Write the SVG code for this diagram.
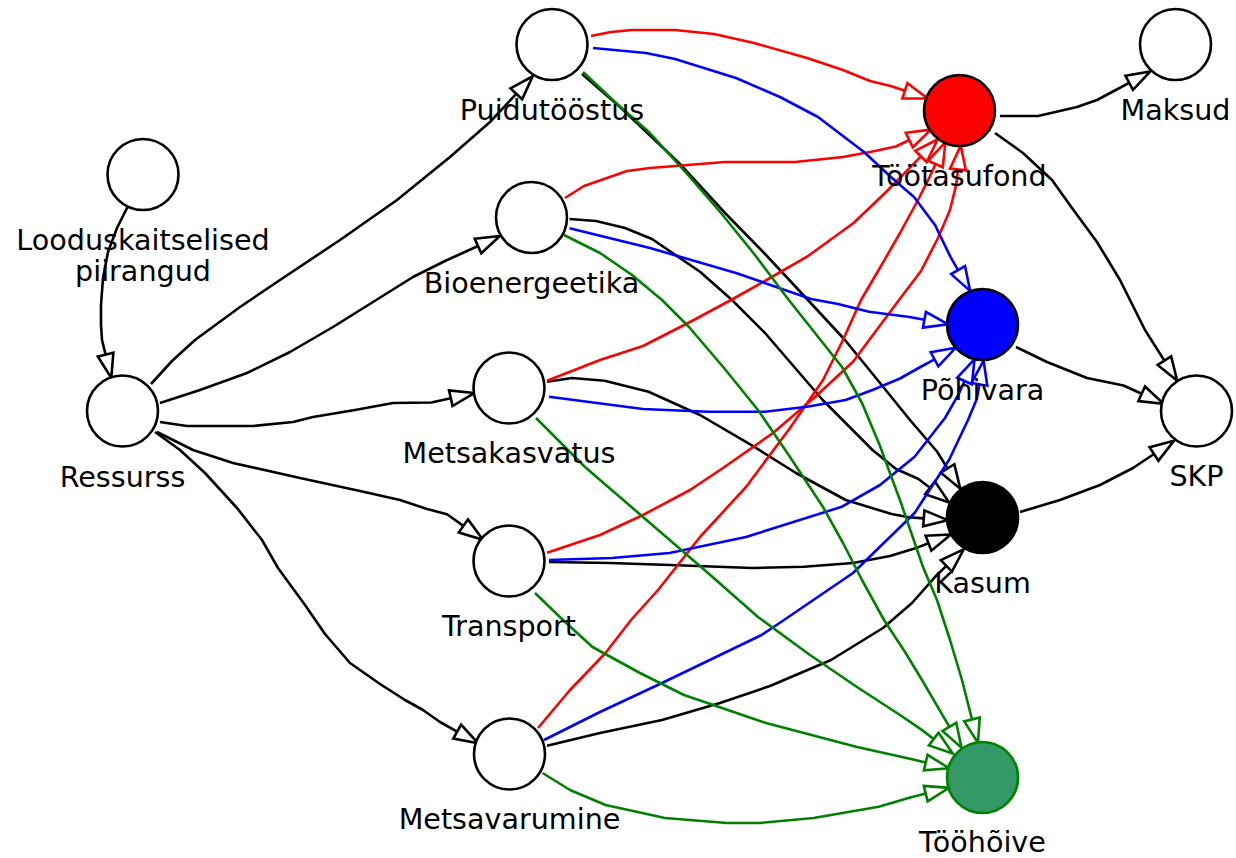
<svg xmlns="http://www.w3.org/2000/svg" width="1236" height="858" viewBox="0 0 1236 858">
<style>
.e{fill:none;stroke-width:2.6;stroke-linejoin:round}
.k{stroke:#000;marker-end:url(#mk)}
.r{stroke:#ff0000;marker-end:url(#mr)}
.b{stroke:#0000ff;marker-end:url(#mb)}
.g{stroke:#008000;marker-end:url(#mg)}
.n{fill:#fff;stroke:#000;stroke-width:2.6}
.t{font-family:"DejaVu Sans","Noto Sans",sans-serif;font-size:28.6px;fill:#000;text-anchor:middle}
marker{overflow:visible}
</style>
<defs>
<marker id="mk" viewBox="-3 -11 30 22" refX="0" refY="0" markerWidth="30" markerHeight="22" markerUnits="userSpaceOnUse" orient="auto"><path d="M0,-8L24,0L0,8Z" fill="none" stroke="#000" stroke-width="2.6"/></marker>
<marker id="mr" viewBox="-3 -11 30 22" refX="0" refY="0" markerWidth="30" markerHeight="22" markerUnits="userSpaceOnUse" orient="auto"><path d="M0,-8L24,0L0,8Z" fill="none" stroke="#ff0000" stroke-width="2.6"/></marker>
<marker id="mb" viewBox="-3 -11 30 22" refX="0" refY="0" markerWidth="30" markerHeight="22" markerUnits="userSpaceOnUse" orient="auto"><path d="M0,-8L24,0L0,8Z" fill="none" stroke="#0000ff" stroke-width="2.6"/></marker>
<marker id="mg" viewBox="-3 -11 30 22" refX="0" refY="0" markerWidth="30" markerHeight="22" markerUnits="userSpaceOnUse" orient="auto"><path d="M0,-8L24,0L0,8Z" fill="none" stroke="#008000" stroke-width="2.6"/></marker>
</defs>
<rect width="1236" height="858" fill="#fff"/>
<g id="connectors">
<path class="e k" d="M128,206 L117,228 L108,252 L103,278 L101,305 L101,325 L102,340 L105.6,354.6"/>
<path class="e k" d="M151,384 L172,361 L195,340 L240,307 L280,280 L340,240 L397,200 L450,157 L490,122 L516.3,93.8"/>
<path class="e k" d="M160,403 L200,390 L247,373 L290,352 L333,327 L373,302 L413,277 L445,261 L478,246"/>
<path class="e k" d="M160,422 L187,426 L253,426 L293,422 L313,417 L355,410 L393,403 L431.3,402.5 L450.8,398.2"/>
<path class="e k" d="M157,432 L193,450 L233,463 L300,478 L360,491 L400,500 L427,509 L447,514.3 L463.4,525.9"/>
<path class="e k" d="M155,432 L180,450 L205,473 L237,508 L262,540 L278,568 L305,605 L325,634 L350,663 L380,684 L405,700 L423,710 L440,722 L457.2,731.6"/>
<path class="e k" d="M1000,116 L1038,116 L1077,107 L1097,100 L1112,92 L1129.2,82.8"/>
<path class="e k" d="M995,133 L1023,153 L1052,180 L1072,208 L1097,242 L1120,280 L1145,330 L1164.4,360.6"/>
<path class="e k" d="M1016,347 L1047,362 L1087,378 L1123.5,385.5 L1141.7,393.8"/>
<path class="e k" d="M1020,512 L1060,500 L1100,485 L1133,468 L1154,454"/>
<path class="e k" d="M582,74 L620,107 L679,163 L725,213 L766,255 L807,299 L845,340 L880,383 L910,420 L937,451.5 L947.6,468.5"/>
<path class="e k" d="M569.6,219 L596,221 L625,228 L652,239 L700,271.7 L732,300 L765,333 L822.7,400 L872.5,450 L896,469 L918.1,478.7 L930,487.8"/>
<path class="e k" d="M547,381.7 L572,378 L604.6,380.7 L648.6,391.7 L700,415 L754,446.7 L796,473 L845.7,500 L891.6,514 L908.9,517.3 L923.8,518.4"/>
<path class="e k" d="M549,562 L610,563 L670,565 L752,568 L804,566.7 L853,563 L890,556 L914.5,548.6 L928.5,543.2"/>
<path class="e k" d="M547,745.7 L600,733 L662,720 L720,703 L770,686 L831,660 L883,628 L912,603 L935.6,576.3 L946.4,565.9"/>
<path class="e r" d="M591,36 L611,32 L632,30 L675,30 L714,34 L754,43 L807,58 L843,70 L870,81 L890.7,86 L904.9,90.8"/>
<path class="e r" d="M565,198 L584,186 L627,171 L650,168 L725,162 L795,162 L843,157 L875,151 L895.8,146.5 L909.3,140"/>
<path class="e r" d="M547,380.7 L600,360 L643,346 L690,322 L731,300 L770,278 L807,256.7 L853.6,223 L885,193 L910.4,167.1 L920.9,156.4"/>
<path class="e r" d="M547,552.7 L600,535 L643,515 L690,490 L723,468 L773,433 L815,397 L853,361.7 L899,300 L921,271 L938,238 L950,210 L956.3,184.4 L958,169.5"/>
<path class="e r" d="M538,728 L570,690 L605.5,653 L631,620 L658,590 L700,537 L746,487 L790,428 L823,380 L842,342 L861,300 L881,266 L900,233 L918,200 L929.3,177.7 L935.5,164"/>
<path class="e b" d="M593,48 L646,53 L675,59 L736,78 L780,97 L818,117 L864,152 L892,178 L914,197 L935,225 L950.6,257.1 L958.1,270.1"/>
<path class="e b" d="M569.6,228.3 L650,248 L736,273 L811,299 L838,304 L869,311.7 L909.6,317 L924.4,319.8"/>
<path class="e b" d="M549,396.7 L643,409 L708,411.7 L765,411.7 L807,406.7 L845.7,400 L872.5,390 L900,378.5 L921.3,366.5 L934.5,359.3"/>
<path class="e b" d="M549,560 L612,558 L669.6,553 L746,537 L842,506.7 L880,485 L914.6,456.7 L945,418 L958.4,394.7 L964.6,381"/>
<path class="e b" d="M544,740 L600,712 L662,683 L761.6,635 L784,620 L853,573 L914.6,513 L949,460 L968,420 L976.8,399 L979.4,384.3"/>
<path class="e g" d="M583,72 L615,102 L650,133 L688,175 L721,213 L755,255 L788,299 L815,333 L842,367 L862,403 L880,446 L901,503 L923,567 L937,600 L950,640 L962,680 L968.3,704.9 L972,719.4"/>
<path class="e g" d="M564,235 L600,253 L632,275 L662,300 L689,327 L724,368 L758,410 L790,457 L823,507 L843,543 L862,580 L884,620 L905,652 L922,680 L941.8,713.9 L949.4,726.9"/>
<path class="e g" d="M536,418 L585,467 L643,517 L708,573 L758,617 L810,655 L857,687 L900,715 L921.8,729.9 L933.7,739"/>
<path class="e g" d="M535,593 L563,620 L592.5,647 L640,673 L684,695 L766,723 L857,747 L911.1,759.1 L925.7,762.6"/>
<path class="e g" d="M542.6,773 L570,790 L605.5,805 L665,818 L727,823 L760,823 L813.6,818 L878.7,806.7 L911.1,797.2 L925.7,793.6"/>
</g>
<g id="n-loodus"><circle class="n" cx="143" cy="174.5" r="35.5"/><text class="t" x="143" y="250">Looduskaitselised</text><text class="t" x="143" y="281">piirangud</text></g>
<g id="n-ressurss"><circle class="n" cx="122.5" cy="411" r="35.5"/><text class="t" x="122.5" y="486.5">Ressurss</text></g>
<g id="n-puidu"><circle class="n" cx="552" cy="44.5" r="35.5"/><text class="t" x="552" y="119.5">Puidutööstus</text></g>
<g id="n-bio"><circle class="n" cx="531.5" cy="217.5" r="35.5"/><text class="t" x="531.5" y="292.5">Bioenergeetika</text></g>
<g id="n-metsakasvatus"><circle class="n" cx="509" cy="388" r="35.5"/><text class="t" x="509" y="463">Metsakasvatus</text></g>
<g id="n-transport"><circle class="n" cx="509" cy="561" r="35.5"/><text class="t" x="509" y="636">Transport</text></g>
<g id="n-metsavarumine"><circle class="n" cx="509.5" cy="754" r="35.5"/><text class="t" x="509.5" y="829">Metsavarumine</text></g>
<g id="n-tootasufond"><circle cx="959.5" cy="110.5" r="35.5" fill="#ff0000" stroke="#000" stroke-width="2.6"/><text class="t" x="959.5" y="185.5">Töötasufond</text></g>
<g id="n-pohivara"><circle cx="982.5" cy="324.5" r="35.5" fill="#0000ff" stroke="#000" stroke-width="2.6"/><text class="t" x="982.5" y="399.5">Põhivara</text></g>
<g id="n-kasum"><circle cx="982.5" cy="517.5" r="35.5" fill="#000" stroke="#000" stroke-width="2.6"/><text class="t" x="982.5" y="593">Kasum</text></g>
<g id="n-toohoive"><circle cx="982.5" cy="777.5" r="35.5" fill="#339966" stroke="#008000" stroke-width="2.6"/><text class="t" x="982.5" y="852">Tööhõive</text></g>
<g id="n-maksud"><circle class="n" cx="1175.5" cy="44.5" r="35.5"/><text class="t" x="1175.5" y="120">Maksud</text></g>
<g id="n-skp"><circle class="n" cx="1196.5" cy="411" r="35.5"/><text class="t" x="1196.5" y="486">SKP</text></g>
</svg>
